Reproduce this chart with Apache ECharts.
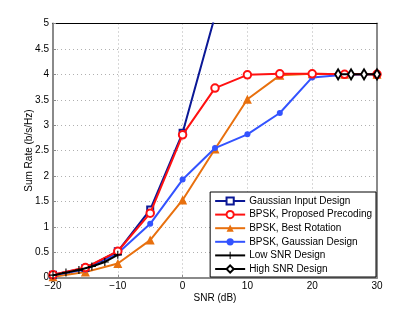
<!DOCTYPE html>
<html>
<head>
<meta charset="utf-8">
<script src="https://cdn.jsdelivr.net/npm/echarts@6/dist/echarts.min.js"></script>
<style>html,body{margin:0;padding:0;background:#fff}#c{width:415px;height:313px}</style>
</head>
<body>
<div id="c"></div>
<script>
// Data
const xTicksMin = -20, xTicksMax = 30, xTickStep = 10;
const yTicksMin = 0, yTicksMax = 5, yTickStep = 0.5;

const snrMain = [-20, -15, -10, -5, 0, 5, 10, 15, 20, 25, 30];
const snrGaussian = [-20, -15, -10, -5, 0, 5];
const gaussianInput = [0.06, 0.19, 0.52, 1.34, 2.85, 5.15];
const bpskProposed = [0.06, 0.2, 0.52, 1.27, 2.81, 3.73, 3.99, 4.01, 4.01, 4.0, 4.0];
const bpskBestRotation = [0.02, 0.11, 0.28, 0.74, 1.53, 2.53, 3.51, 3.98, 4.01, 4.0, 4.0];
const bpskGaussianDesign = [0.05, 0.16, 0.48, 1.06, 1.93, 2.55, 2.82, 3.24, 3.94, 3.99, 4.0];
const snrLow = [-20, -18, -16, -14, -12, -10];
const lowSnrDesign = [0.05, 0.1, 0.15, 0.22, 0.31, 0.45];
const snrHigh = [24, 26, 28, 30];
const highSnrDesign = [4.0, 4.0, 4.0, 4.0];

const names = ['Gaussian Input Design', 'BPSK, Proposed Precoding', 'BPSK, Best Rotation',
  'BPSK, Gaussian Design', 'Low SNR Design', 'High SNR Design'];

function pairs(xs, ys) { return ys.map((v, i) => [xs[i], v]); }

const plusPath = 'path://M4.3,0H5.7V4.3H10V5.7H5.7V10H4.3V5.7H0V4.3H4.3Z';
const FONT = 'Liberation Sans, Arial, Helvetica, sans-serif';

const chart = echarts.init(document.getElementById('c'), null, { renderer: 'canvas' });
chart.setOption({
  animation: false,
  backgroundColor: '#fff',
  textStyle: { fontFamily: FONT },
  grid: { left: 53, right: 38, top: 23.5, bottom: 35.3, containLabel: false },
  legend: {
    data: names,
    orient: 'vertical',
    right: 39,
    bottom: 36,
    padding: [4, 4, 3, 4],
    itemWidth: 30,
    itemHeight: 9,
    itemGap: 3.6,
    backgroundColor: '#fff',
    borderColor: '#000',
    borderWidth: 1,
    borderRadius: 0,
    textStyle: { fontSize: 10, color: '#000', fontFamily: FONT, padding: [0, 0, 0, -1] }
  },
  xAxis: [{
    type: 'value', min: xTicksMin, max: xTicksMax, interval: xTickStep,
    name: 'SNR (dB)', nameLocation: 'middle', nameGap: 16, nameMoveOverlap: false,
    nameTextStyle: { fontSize: 10, color: '#000', fontFamily: FONT },
    axisLine: { show: true, onZero: false, lineStyle: { color: '#8a8a8a', width: 2 } },
    axisTick: { show: true, inside: true, length: 3, lineStyle: { color: '#8a8a8a' } },
    axisLabel: { fontSize: 10, color: '#000', margin: 4, fontFamily: FONT,
      formatter: v => String(v).replace('-', '\u2212') },
    splitLine: { show: true, lineStyle: { color: '#b0b0b0', type: [1, 3], width: 1 } }
  }, {
    type: 'value', min: xTicksMin, max: xTicksMax, interval: xTickStep, position: 'top',
    axisLine: { show: true, onZero: false, lineStyle: { color: '#000', width: 1 } },
    axisTick: { show: false }, axisLabel: { show: false }, splitLine: { show: false }
  }],
  yAxis: [{
    type: 'value', min: yTicksMin, max: yTicksMax, interval: yTickStep,
    name: 'Sum Rate (b/s/Hz)', nameLocation: 'middle', nameGap: 19, nameMoveOverlap: false,
    nameTextStyle: { fontSize: 10, color: '#000', fontFamily: FONT },
    axisLine: { show: true, onZero: false, lineStyle: { color: '#8a8a8a', width: 2 } },
    axisTick: { show: true, inside: true, length: 3, lineStyle: { color: '#8a8a8a' } },
    axisLabel: { fontSize: 10, color: '#000', margin: 4, fontFamily: FONT },
    splitLine: { show: true, lineStyle: { color: '#b0b0b0', type: [1, 3], width: 1 } }
  }, {
    type: 'value', min: yTicksMin, max: yTicksMax, interval: yTickStep, position: 'right',
    axisLine: { show: true, onZero: false, lineStyle: { color: '#8a8a8a', width: 2 } },
    axisTick: { show: false }, axisLabel: { show: false }, splitLine: { show: false }
  }],
  series: [
    {
      name: names[2], type: 'line', data: pairs(snrMain, bpskBestRotation), z: 2,
      symbol: 'triangle', symbolSize: 9, color: '#e8700e',
      lineStyle: { width: 2 }, itemStyle: { color: '#e8700e' }
    },
    {
      name: names[3], type: 'line', data: pairs(snrMain, bpskGaussianDesign), z: 3,
      symbol: 'circle', symbolSize: 6, color: '#3353ff',
      lineStyle: { width: 2 }, itemStyle: { color: '#3353ff' }
    },
    {
      name: names[0], type: 'line', data: pairs(snrGaussian, gaussianInput), z: 4,
      symbol: 'emptyRect', symbolSize: 6, color: '#0b1896', clip: true,
      lineStyle: { width: 2 }, itemStyle: { color: '#0b1896', borderWidth: 1.5 }
    },
    {
      name: names[1], type: 'line', data: pairs(snrMain, bpskProposed), z: 5,
      symbol: 'emptyCircle', symbolSize: 7.5, color: '#ff1111',
      lineStyle: { width: 2 }, itemStyle: { color: '#ff1111', borderWidth: 1.5 }
    },
    {
      name: names[4], type: 'line', data: pairs(snrLow, lowSnrDesign), z: 6,
      symbol: plusPath, symbolSize: 8, color: '#000',
      lineStyle: { width: 2 }, itemStyle: { color: '#000' }
    },
    {
      name: names[5], type: 'line', data: pairs(snrHigh, highSnrDesign), z: 6,
      symbol: 'emptyDiamond', symbolSize: [6, 10], color: '#000',
      lineStyle: { width: 2 }, itemStyle: { color: '#000', borderWidth: 1.5 }
    }
  ]
});
</script>
</body>
</html>
